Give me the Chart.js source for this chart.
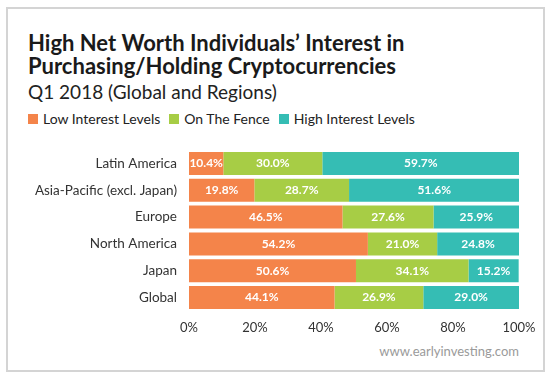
<!DOCTYPE html>
<html lang="en">
<head>
<meta charset="UTF-8">
<title>HNWI Crypto Interest</title>
<script src="https://cdn.jsdelivr.net/npm/chart.js@4.4.0/dist/chart.umd.min.js"></script>
<style>
  body { margin: 0; background: #fff; font-family: "Lato", "Open Sans", sans-serif; }
  .frame { position: absolute; left: 6px; top: 7px; width: 535px; height: 361px; border: 2px solid #d4d4d4; }
  .title { position: absolute; left: 28px; top: 31px; margin: 0; font-size: 22px; line-height: 23px; font-weight: 700; color: #1a1a1a; }
  .sub { position: absolute; left: 28px; top: 80px; font-size: 19px; color: #222; }
  .legend { position: absolute; left: 28px; top: 110px; font-size: 14px; color: #222; display: flex; }
  .legend span.item { display: flex; align-items: center; margin-right: 9px; }
  .legend i { display: inline-block; width: 10px; height: 10px; margin-right: 5px; }
  .credit { position: absolute; right: 31px; top: 343px; font-size: 13px; color: #9a9a9a; }
  #chart { position: absolute; left: 0; top: 140px; }
</style>
</head>
<body>
<div class="frame"></div>
<h1 class="title">High Net Worth Individuals’ Interest in<br>Purchasing/Holding Cryptocurrencies</h1>
<div class="sub">Q1 2018 (Global and Regions)</div>
<div class="legend" id="legend"></div>
<div class="credit">www.earlyinvesting.com</div>
<canvas id="chart" width="540" height="201"></canvas>
<script>
// data
const regions = ['Latin America', 'Asia-Pacific (excl. Japan)', 'Europe', 'North America', 'Japan', 'Global'];
const seriesNames = ['Low Interest Levels', 'On The Fence', 'High Interest Levels'];
const lowInterest = [10.4, 19.8, 46.5, 54.2, 50.6, 44.1];
const onTheFence = [30.0, 28.7, 27.6, 21.0, 34.1, 26.9];
const highInterest = [59.7, 51.6, 25.9, 24.8, 15.2, 29.0];
const xTicks = [0, 20, 40, 60, 80, 100];

const colors = ['#f4844a', '#a7cd45', '#35bdb4'];
const seriesData = [lowInterest, onTheFence, highInterest];

// legend
document.getElementById('legend').innerHTML = seriesNames.map((n, i) =>
  `<span class="item"><i style="background:${colors[i]}"></i>${n}</span>`).join('');

// value labels inside the bars
const barLabels = {
  id: 'barLabels',
  afterDatasetsDraw(chart) {
    const ctx = chart.ctx;
    ctx.save();
    ctx.font = 'bold 12px "Lato", sans-serif';
    ctx.fillStyle = '#fff';
    ctx.textAlign = 'center';
    ctx.textBaseline = 'middle';
    chart.data.datasets.forEach((ds, di) => {
      chart.getDatasetMeta(di).data.forEach((bar, i) => {
        const cx = (bar.x + bar.base) / 2;
        ctx.fillText(ds.data[i].toFixed(1) + '%', cx, bar.y);
      });
    });
    ctx.restore();
  }
};

new Chart(document.getElementById('chart'), {
  type: 'bar',
  data: {
    labels: regions,
    datasets: seriesNames.map((n, i) => ({
      label: n,
      data: seriesData[i],
      backgroundColor: colors[i],
      borderWidth: 0,
      barPercentage: 1,
      categoryPercentage: 0.86
    }))
  },
  options: {
    indexAxis: 'y',
    responsive: false,
    animation: false,
    layout: { padding: { top: 10, right: 21, bottom: 0, left: 0 } },
    plugins: { legend: { display: false }, tooltip: { enabled: false } },
    scales: {
      x: {
        stacked: true, min: 0, max: 100,
        grid: { display: false, drawTicks: false }, border: { display: false },
        afterBuildTicks: s => { s.ticks = xTicks.map(v => ({ value: v })); },
        afterFit: s => { s.height = 30; s.paddingLeft = 0; s.paddingRight = 0; },
        ticks: { padding: 9, color: '#333', font: { family: 'Lato', size: 13 }, callback: v => v + '%' }
      },
      y: {
        stacked: true,
        grid: { display: false, drawTicks: false }, border: { display: false },
        afterFit: s => { s.width = 189; s.paddingTop = 0; s.paddingBottom = 0; },
        ticks: { padding: 12, color: '#333', font: { family: 'Lato', size: 13.5 } }
      }
    }
  },
  plugins: [barLabels]
});
</script>
</body>
</html>
